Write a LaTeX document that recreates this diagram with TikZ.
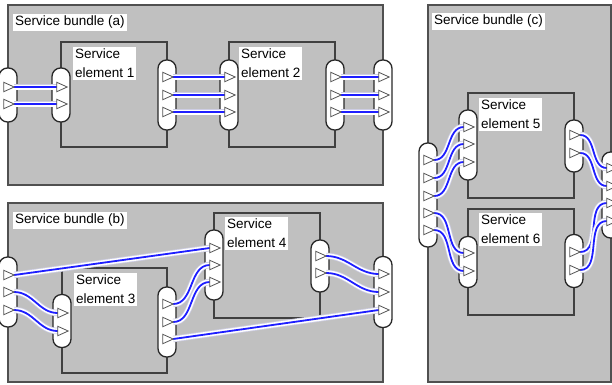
\documentclass[tikz,border=0pt]{standalone}
\usepackage{fontspec}
\setmainfont{Liberation Sans}
\definecolor{bundlefill}{RGB}{192,192,192}
\definecolor{bundleedge}{RGB}{80,80,80}
\definecolor{elemedge}{RGB}{64,64,64}
\definecolor{portedge}{RGB}{40,40,40}
\definecolor{trigray}{RGB}{85,85,85}
\definecolor{linkblue}{RGB}{30,30,255}
\definecolor{haloedge}{RGB}{205,205,228}
\tikzset{
  bundle/.style={draw=bundleedge, fill=bundlefill, line width=2.5pt, inner sep=0pt},
  element/.style={draw=elemedge, line width=2pt, inner sep=0pt},
  port/.style={draw=portedge, fill=white, line width=1.3pt, rounded corners=8.5pt, minimum width=18pt, inner sep=0pt},
  lbl/.style={fill=white, inner sep=2pt, align=left, anchor=north west, font=\fontsize{13.5}{18.5}\selectfont},
  slot/.style={inner sep=0pt, minimum width=10pt, minimum height=9pt},
  tri/.style={draw=trigray, fill=white, line width=0.8pt, line join=miter},
  conn/.style={draw=linkblue, line width=1.8pt,
    preaction={draw=haloedge, line width=6.5pt},
    preaction={draw=white, line width=5pt}},
}
\begin{document}
\begin{tikzpicture}[x=1pt, y=-1pt]
\useasboundingbox (0,0) rectangle (612,384);
\fill[white] (0,0) rectangle (612,384);

% ---------- bundles ----------
\node[bundle, minimum width=375pt, minimum height=180pt] (bundleA) at (195.5,95) {};
\node[bundle, minimum width=375pt, minimum height=179pt] (bundleB) at (195.5,292.5) {};
\node[bundle, minimum width=183pt, minimum height=377pt] (bundleC) at (519.5,193.5) {};

% ---------- elements ----------
\node[element, minimum width=106pt, minimum height=105pt] (el1) at (114,94.5) {};
\node[element, minimum width=106pt, minimum height=105pt] (el2) at (282,94.5) {};
\node[element, minimum width=105pt, minimum height=105pt] (el3) at (114.5,320.5) {};
\node[element, minimum width=106pt, minimum height=105pt] (el4) at (267,265.5) {};
\node[element, minimum width=106pt, minimum height=105pt] (el5) at (521,145.5) {};
\node[element, minimum width=106pt, minimum height=106pt] (el6) at (521,262) {};

% ---------- labels ----------
\node[lbl] (lA) at (13,14) {Service bundle (a)};
\node[lbl] (lB) at (13,212) {Service bundle (b)};
\node[lbl] (lC) at (432,13) {Service bundle (c)};
\node[lbl] (l1) at (73,47) {Service\\element 1};
\node[lbl] (l2) at (239,47) {Service\\element 2};
\node[lbl] (l3) at (74,273) {Service\\element 3};
\node[lbl] (l4) at (225,217) {Service\\element 4};
\node[lbl] (l5) at (479,98) {Service\\element 5};
\node[lbl] (l6) at (479,213) {Service\\element 6};

% ---------- ports ----------
\node[port, minimum height=54pt] (pA0) at (8,95) {};
\node[port, minimum height=54pt] (pE1L) at (61,95) {};
\node[port, minimum height=70pt] (pE1R) at (167,95) {};
\node[port, minimum height=70pt] (pE2L) at (229,95) {};
\node[port, minimum height=70pt] (pE2R) at (335,95) {};
\node[port, minimum height=70pt] (pAR) at (383,95) {};

\node[port, minimum height=70pt] (pB0) at (8,292) {};
\node[port, minimum height=53pt] (pE3L) at (62,321) {};
\node[port, minimum height=70pt] (pE3R) at (167,322) {};
\node[port, minimum height=70pt] (pE4L) at (214,265) {};
\node[port, minimum height=52pt] (pE4R) at (320,266) {};
\node[port, minimum height=71pt] (pBR) at (383,292) {};

\node[port, minimum height=104pt] (pC0) at (428,195) {};
\node[port, minimum height=70pt] (pE5L) at (468,145) {};
\node[port, minimum height=52pt] (pE5R) at (574,146) {};
\node[port, minimum height=51pt] (pE6L) at (468,262) {};
\node[port, minimum height=53pt] (pE6R) at (574,261) {};
\node[port, minimum height=86pt] (pCR) at (611,195) {};

% ---------- slots ----------
\node[slot] (sA0a) at (9,87) {};
\node[slot] (sA0b) at (9,104) {};
\node[slot] (s1La) at (62,87) {};
\node[slot] (s1Lb) at (62,104) {};
\node[slot] (s1Ra) at (168,77) {};
\node[slot] (s1Rb) at (168,95) {};
\node[slot] (s1Rc) at (168,112) {};
\node[slot] (s2La) at (230,77) {};
\node[slot] (s2Lb) at (230,95) {};
\node[slot] (s2Lc) at (230,112) {};
\node[slot] (s2Ra) at (336,77) {};
\node[slot] (s2Rb) at (336,95) {};
\node[slot] (s2Rc) at (336,112) {};
\node[slot] (sARa) at (384,77) {};
\node[slot] (sARb) at (384,95) {};
\node[slot] (sARc) at (384,112) {};

\node[slot] (sB0a) at (9,275) {};
\node[slot] (sB0b) at (9,292) {};
\node[slot] (sB0c) at (9,310) {};
\node[slot] (s3La) at (63,313) {};
\node[slot] (s3Lb) at (63,331) {};
\node[slot] (s3Ra) at (168,304) {};
\node[slot] (s3Rb) at (168,322) {};
\node[slot] (s3Rc) at (168,339) {};
\node[slot] (s4La) at (215,248) {};
\node[slot] (s4Lb) at (215,265) {};
\node[slot] (s4Lc) at (215,282) {};
\node[slot] (s4Ra) at (321,256) {};
\node[slot] (s4Rb) at (321,273) {};
\node[slot] (sBRa) at (384,274) {};
\node[slot] (sBRb) at (384,292) {};
\node[slot] (sBRc) at (384,310) {};

\node[slot] (sC0a) at (429,160) {};
\node[slot] (sC0b) at (429,178) {};
\node[slot] (sC0c) at (429,196) {};
\node[slot] (sC0d) at (429,213) {};
\node[slot] (sC0e) at (429,230) {};
\node[slot] (s5La) at (469,127) {};
\node[slot] (s5Lb) at (469,144) {};
\node[slot] (s5Lc) at (469,162) {};
\node[slot] (s5Ra) at (575,135) {};
\node[slot] (s5Rb) at (575,153) {};
\node[slot] (s6La) at (469,253) {};
\node[slot] (s6Lb) at (469,271) {};
\node[slot] (s6Ra) at (575,252) {};
\node[slot] (s6Rb) at (575,270) {};
\node[slot] (sCRa) at (612,168) {};
\node[slot] (sCRb) at (612,186) {};
\node[slot] (sCRc) at (612,203) {};
\node[slot] (sCRd) at (612,221) {};

% ---------- connectors ----------
% bundle (a)
\draw[conn] (sA0a.east) -- (s1La.west);
\draw[conn] (sA0b.east) -- (s1Lb.west);
\draw[conn] (s1Ra.east) -- (s2La.west);
\draw[conn] (s1Rb.east) -- (s2Lb.west);
\draw[conn] (s1Rc.east) -- (s2Lc.west);
\draw[conn] (s2Ra.east) -- (sARa.west);
\draw[conn] (s2Rb.east) -- (sARb.west);
\draw[conn] (s2Rc.east) -- (sARc.west);
% bundle (b)
\draw[conn] (sB0a.east) -- (s4La.west);
\draw[conn] (sB0b.east) to[out=0,in=180] (s3La.west);
\draw[conn] (sB0c.east) to[out=0,in=180] (s3Lb.west);
\draw[conn] (s3Ra.east) to[out=0,in=180] (s4Lb.west);
\draw[conn] (s3Rb.east) to[out=0,in=180] (s4Lc.west);
\draw[conn] (s3Rc.east) -- (sBRc.west);
\draw[conn] (s4Ra.east) to[out=0,in=180] (sBRa.west);
\draw[conn] (s4Rb.east) to[out=0,in=180] (sBRb.west);
% bundle (c)
\draw[conn] (sC0a.east) to[out=0,in=180] (s5La.west);
\draw[conn] (sC0b.east) to[out=0,in=180] (s5Lb.west);
\draw[conn] (sC0c.east) to[out=0,in=180] (s5Lc.west);
\draw[conn] (sC0d.east) to[out=0,in=180] (s6La.west);
\draw[conn] (sC0e.east) to[out=0,in=180] (s6Lb.west);
\draw[conn] (s5Ra.east) to[out=0,in=180] (sCRa.west);
\draw[conn] (s5Rb.east) to[out=0,in=180] (sCRb.west);
\draw[conn] (s6Ra.east) to[out=0,in=180] (sCRc.west);
\draw[conn] (s6Rb.east) to[out=0,in=180] (sCRd.west);

% ---------- triangles ----------
\foreach \n in {sA0a,sA0b,s1La,s1Lb,s1Ra,s1Rb,s1Rc,s2La,s2Lb,s2Lc,s2Ra,s2Rb,s2Rc,sARa,sARb,sARc,
  sB0a,sB0b,sB0c,s3La,s3Lb,s3Ra,s3Rb,s3Rc,s4La,s4Lb,s4Lc,s4Ra,s4Rb,sBRa,sBRb,sBRc,
  sC0a,sC0b,sC0c,sC0d,sC0e,s5La,s5Lb,s5Lc,s5Ra,s5Rb,s6La,s6Lb,s6Ra,s6Rb,sCRa,sCRb,sCRc,sCRd}
  \draw[tri] (\n.south west) -- (\n.east) -- (\n.north west) -- cycle;
\end{tikzpicture}
\end{document}
